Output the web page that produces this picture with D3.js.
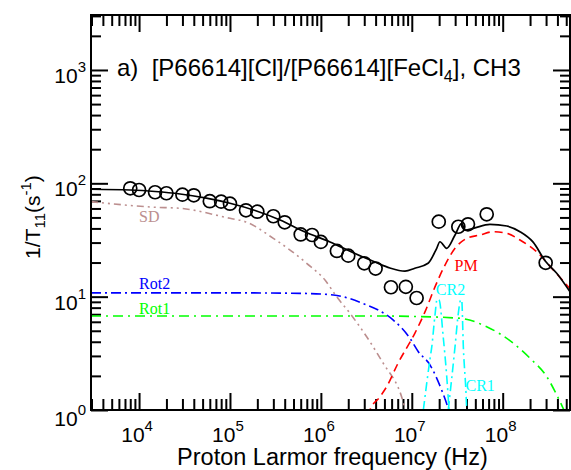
<!DOCTYPE html>
<html>
<head>
<meta charset="utf-8">
<script src="https://cdn.jsdelivr.net/npm/d3@7"></script>
<style>
  body { margin: 0; background: #fff; }
  svg { display: block; font-family: "Liberation Sans", Arial, Helvetica, sans-serif; }
  .lbl { font-family: "Liberation Serif", "Times New Roman", serif; font-size: 16px; }
</style>
</head>
<body>
<div id="chart"></div>
<script>
"use strict";

// measured 1/T1 (s^-1) vs proton Larmor frequency (Hz)
var obsFreq = [8e3, 1e4, 1.5e4, 2e4, 3e4, 4e4, 6e4, 8e4, 1e5, 1.5e5, 2e5, 3e5, 4e5,
    6e5, 8e5, 1e6, 1.5e6, 2e6, 3e6, 4e6, 5.9e6, 8.6e6, 1.13e7, 1.98e7, 3.25e7,
    4.15e7, 6.67e7, 2.97e8];
var obsRate = [90.4, 87.3, 83.4, 81.7, 79.4, 78.4, 69.5, 68.9, 66.1, 57.8, 56.2, 51.2,
    45.3, 35.4, 35.0, 30.4, 25.3, 23.0, 19.7, 17.7, 12.1, 12.2, 9.73, 45.9, 41.4,
    43.5, 53.3, 19.9];

// fitted curves as [frequency, rate]
var totalFit = [[2.96e3, 88.6], [7.96e3, 87.3], [1.5e4, 84.7], [2.83e4, 80.5],
    [5.32e4, 74.3], [1e5, 66.7], [1.89e5, 57.6], [3.56e5, 47.5], [6.7e5, 37.2],
    [1.26e6, 30.4], [2.37e6, 24.0], [3.94e6, 20.2], [5.75e6, 17.9], [8.41e6, 16.8],
    [1.08e7, 17.8], [1.51e7, 19.7], [1.88e7, 26.7], [2.04e7, 30.5], [2.42e7, 26.7],
    [2.99e7, 35.0], [3.54e7, 44.4], [3.85e7, 38.7], [4.75e7, 40.1], [7.24e7, 43.5],
    [1.11e8, 42.0], [1.55e8, 37.4], [2.15e8, 30.4], [2.97e8, 20.4], [3.93e8, 16.1],
    [5.64e8, 10.7]];
var sdFit = [[2.96e3, 68.9], [1.49e4, 61.5], [2.83e4, 60.2], [1e5, 49.1],
    [1.47e5, 45.9], [3e5, 32.7], [6.98e5, 19.7], [1.11e6, 14.0], [1.49e6, 10.0],
    [2.09e6, 7.13], [3.19e6, 4.43], [4.86e6, 2.58], [7.42e6, 1.44], [8.63e6, 1.0],
    [1e7, 0.82]];
var rot2Fit = [[2.96e3, 10.8], [1.29e5, 10.8], [5.9e5, 10.7], [1.37e6, 10.35],
    [3.19e6, 8.44], [4.47e6, 7.47], [6.26e6, 6.22], [9.55e6, 4.29], [1.18e7, 3.27],
    [1.59e7, 2.49], [2.13e7, 1.5], [2.52e7, 1.03], [2.63e7, 0.92]];
var rot1Fit = [[2.96e3, 6.75], [4.47e6, 6.75], [9.55e6, 6.7], [3.39e7, 6.44],
    [6.67e7, 5.43], [1.31e8, 3.88], [2e8, 2.86], [3.05e8, 1.97], [3.93e8, 1.36],
    [4.64e8, 1.03], [4.96e8, 0.92]];
var pmFit = [[3.3e6, 0.886], [3.47e6, 1.0], [4.47e6, 1.31], [5.3e6, 1.61],
    [7.05e6, 2.58], [1.08e7, 4.75], [1.4e7, 7.37], [1.8e7, 12.2], [2.32e7, 19.0],
    [2.99e7, 26.7], [4.02e7, 32.7], [5.62e7, 35.0], [7.87e7, 37.4], [1.11e8, 36.2],
    [1.55e8, 31.6], [2.36e8, 24.9], [3.6e8, 17.2], [5.64e8, 11.5]];
var cr2Fit = [[1.34e7, 1.0], [1.59e7, 2.86], [1.66e7, 3.62], [1.8e7, 6.89],
    [1.9e7, 9.54], [2e7, 9.35], [2.22e7, 4.36], [2.42e7, 2.0], [2.57e7, 1.0]];
var cr1Fit = [[2.52e7, 1.0], [2.99e7, 3.62], [3.25e7, 7.13], [3.45e7, 9.35],
    [3.54e7, 9.35], [3.69e7, 3.62], [3.95e7, 1.4], [4.02e7, 1.0]];

var xTickExp = [4, 5, 6, 7, 8];
var yTickExp = [0, 1, 2, 3];

var width = 571, height = 470;
var plot = { left: 91, right: 570, top: 15, bottom: 410 };

var x = d3.scaleLog().domain([2960, 5.5e8]).range([plot.left, plot.right]);
var y = d3.scaleLog().domain([1, 3055]).range([plot.bottom, plot.top]);

var svg = d3.select("#chart").append("svg")
    .attr("width", width)
    .attr("height", height);

svg.append("clipPath").attr("id", "clip")
    .append("rect")
    .attr("x", plot.left).attr("y", plot.top)
    .attr("width", plot.right - plot.left)
    .attr("height", plot.bottom - plot.top);

// ticks on all four sides, pointing inwards
function isMajor(v) {
    return Math.abs(Math.log10(v) - Math.round(Math.log10(v))) < 1e-9;
}
var xAll = x.ticks(), yAll = y.ticks();
var xMajor = xAll.filter(isMajor), xMinor = xAll.filter(function (v) { return !isMajor(v); });
var yMajor = yAll.filter(isMajor), yMinor = yAll.filter(function (v) { return !isMajor(v); });

function ticks(axisFn, scale, values, size, tx, ty) {
    svg.append("g")
        .attr("transform", "translate(" + tx + "," + ty + ")")
        .call(axisFn(scale).tickValues(values).tickSizeInner(-size).tickSizeOuter(0).tickFormat(""))
        .call(function (g) { g.select(".domain").remove(); })
        .selectAll("line")
        .attr("stroke", "#000")
        .attr("stroke-width", 2);
}
ticks(d3.axisBottom, x, xMajor, 17, 0, plot.bottom);
ticks(d3.axisBottom, x, xMinor, 11, 0, plot.bottom);
ticks(d3.axisTop, x, xMajor, 17, 0, plot.top);
ticks(d3.axisTop, x, xMinor, 11, 0, plot.top);
ticks(d3.axisLeft, y, yMajor, 17, plot.left, 0);
ticks(d3.axisLeft, y, yMinor, 10, plot.left, 0);
ticks(d3.axisRight, y, yMajor, 17, plot.right, 0);
ticks(d3.axisRight, y, yMinor, 10, plot.right, 0);

// curves
var line = d3.line()
    .x(function (d) { return x(d[0]); })
    .y(function (d) { return y(d[1]); })
    .curve(d3.curveMonotoneX);

var curves = svg.append("g").attr("clip-path", "url(#clip)");
function drawCurve(data, color, dash, w) {
    curves.append("path")
        .datum(data)
        .attr("d", line)
        .attr("fill", "none")
        .attr("stroke", color)
        .attr("stroke-width", w)
        .attr("stroke-dasharray", dash);
}
drawCurve(sdFit, "#bc8f8f", "7,4,2,4,2,4", 1.6);
drawCurve(rot2Fit, "#0000ff", "10,4,2,4", 1.6);
drawCurve(rot1Fit, "#00ff00", "10,5,2,5", 1.6);
drawCurve(pmFit, "#ff0000", "8,5", 1.6);
drawCurve(cr2Fit, "#00ffff", "9,4,2,4", 1.6);
drawCurve(cr1Fit, "#00ffff", "9,4,2,4", 1.6);
drawCurve(totalFit, "#000", null, 1.7);

// data points
svg.append("g").selectAll("circle")
    .data(obsFreq)
    .enter().append("circle")
    .attr("cx", function (d) { return x(d); })
    .attr("cy", function (d, i) { return y(obsRate[i]); })
    .attr("r", 6.5)
    .attr("fill", "none")
    .attr("stroke", "#000")
    .attr("stroke-width", 1.7);

// frame
svg.append("rect")
    .attr("x", plot.left).attr("y", plot.top)
    .attr("width", plot.right - plot.left)
    .attr("height", plot.bottom - plot.top)
    .attr("fill", "none")
    .attr("stroke", "#000")
    .attr("stroke-width", 2);

// tick labels 10^n
svg.append("g").selectAll("text")
    .data(xTickExp)
    .enter().append("text")
    .attr("x", function (d) { return x(Math.pow(10, d)) - 2; })
    .attr("y", 442)
    .attr("text-anchor", "middle")
    .style("font-size", "21px")
    .each(function (d) {
        var t = d3.select(this);
        t.append("tspan").text("10");
        t.append("tspan").attr("dy", -11).style("font-size", "15px").text(d);
    });

svg.append("g").selectAll("text")
    .data(yTickExp)
    .enter().append("text")
    .attr("x", 86)
    .attr("y", function (d) { return y(Math.pow(10, d)) + (d === 0 ? 16 : 13); })
    .attr("text-anchor", "end")
    .style("font-size", "21px")
    .each(function (d) {
        var t = d3.select(this);
        t.append("tspan").text("10");
        t.append("tspan").attr("dy", -11).style("font-size", "15px").text(d);
    });

// axis titles
svg.append("text")
    .attr("x", (plot.left + plot.right) / 2 + 2)
    .attr("y", 465)
    .attr("text-anchor", "middle")
    .style("font-size", "23.5px")
    .text("Proton Larmor frequency (Hz)");

var yt = svg.append("text")
    .attr("transform", "translate(40," + 217 + ") rotate(-90)")
    .attr("text-anchor", "middle")
    .style("font-size", "21px");
yt.append("tspan").text("1/T");
yt.append("tspan").attr("dy", 5).style("font-size", "15px").text("11");
yt.append("tspan").attr("dy", -5).text("(s");
yt.append("tspan").attr("dy", -9).style("font-size", "15px").text("-1");
yt.append("tspan").attr("dy", 9).text(")");

// panel title
var title = svg.append("text")
    .attr("x", 117)
    .attr("y", 76)
    .style("font-size", "24px")
    .attr("xml:space", "preserve");
title.append("tspan").text("a)  [P66614][Cl]/[P66614][FeCl");
title.append("tspan").attr("dy", 6).style("font-size", "16px").text("4");
title.append("tspan").attr("dy", -6).text("], CH3");

// component labels
var labels = [
    { text: "SD", f: 1.0e4, v: 46, color: "#bc8f8f" },
    { text: "Rot2", f: 1.0e4, v: 11.6, color: "#0000ff" },
    { text: "Rot1", f: 1.0e4, v: 7.0, color: "#00ff00" },
    { text: "PM", f: 2.95e7, v: 16.7, color: "#ff0000" },
    { text: "CR2", f: 1.84e7, v: 10.3, color: "#00ffff" },
    { text: "CR1", f: 3.9e7, v: 1.48, color: "#00ffff" }
];
svg.append("g").selectAll("text")
    .data(labels)
    .enter().append("text")
    .attr("class", "lbl")
    .attr("x", function (d) { return x(d.f); })
    .attr("y", function (d) { return y(d.v); })
    .attr("fill", function (d) { return d.color; })
    .text(function (d) { return d.text; });
</script>
</body>
</html>
